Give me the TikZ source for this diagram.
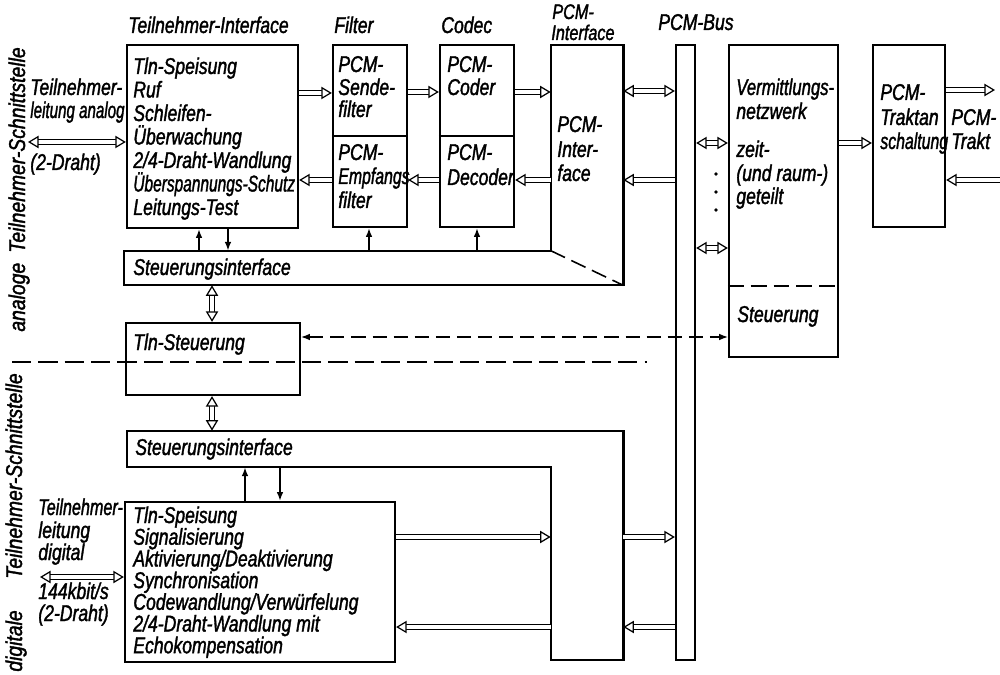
\documentclass[tikz,border=0pt]{standalone}
\usepackage{fontspec}
\setmainfont{Liberation Sans}[FakeStretch=0.77,FakeBold=1.5]
\usetikzlibrary{arrows.meta,fit}
\newcommand\sqz[2][0.88]{\scalebox{#1}[1]{#2}}
\tikzset{
  otri/.tip={Triangle[length=6pt,width=7pt,color=black,fill=white,line width=0.7pt]},
  ctip/.tip={Latex[length=5pt,width=3.8pt]},
  box/.style={draw, line width=1.3pt, inner sep=0pt},
  area/.style={inner sep=0pt},
  outline/.style={draw, line width=1.3pt, line join=miter},
  txt/.style={inner sep=0pt, anchor=base west, font=\fontsize{13}{13}\selectfont\itshape},
  dbl/.style={draw, line width=0.65pt, double, double distance=1.8pt,
    e/.style={shorten >=3pt}, s/.style={shorten <=3pt}, b/.style={shorten >=3pt, shorten <=3pt}},
  ghost/.style={draw=white, line width=0.1pt,
    e/.style={-otri}, s/.style={otri-}, b/.style={otri-otri}},
  ctl/.style={draw, line width=0.9pt, -ctip},
  dashctl/.style={draw, line width=0.7pt, dash pattern=on 8pt off 4pt, ctip-ctip},
  sep/.style={draw, line width=0.8pt, dash pattern=on 11pt off 4pt},
  divider/.style={draw, line width=0.9pt, dash pattern=on 9pt off 4pt}
}
\newcommand\dar[3]{\draw[dbl,#1] #2 -- #3; \draw[ghost,#1] #2 -- #3;}
\begin{document}
\begin{tikzpicture}[x=0.02cm,y=-0.02cm]
\useasboundingbox (0,0) rectangle (1000,675);

% ---------- boxes ----------
\node[box, fit={(127,45) (298,228)}] (ti) {};
\node[box, fit={(333,45) (407,227)}] (filt) {};
\node[box, fit={(440,45) (514,227)}] (codec) {};
\node[area, fit={(551,45) (623,285)}] (pif) {};
\node[area, fit={(124,251) (623,285)}] (stifA) {};
\node[box, fit={(126,323) (300,395)}] (tlns) {};
\node[area, fit={(127,431) (623,467)}] (stifB) {};
\node[area, fit={(551,431) (623,660)}] (pifB) {};
\node[box, fit={(125,502) (395,662)}] (dig) {};
\node[box, fit={(676,45) (695,660)}] (bus) {};
\node[box, fit={(729,45) (838,357)}] (vn) {};
\node[box, fit={(873,45) (945,227)}] (pta) {};

\draw[line width=1.1pt] (filt.west |- 0,136) -- (filt.east |- 0,136);
\draw[line width=1.1pt] (codec.west |- 0,136) -- (codec.east |- 0,136);
\draw[divider] (vn.west |- 0,286) -- (vn.east |- 0,286);

\draw[outline] (stifA.north west) -- (pif.west |- stifA.north) -- (pif.north west)
  -- (pif.north east) -- (pif.south east) -- (stifA.south west) -- cycle;
\draw[divider] (pif.west |- stifA.north) -- (pif.south east);
\draw[outline] (stifB.north west) -- (stifB.north east) -- (pifB.south east)
  -- (pifB.south west) -- (pifB.west |- stifB.south) -- (stifB.south west) -- cycle;

% separator
\draw[sep] (12,362) -- (647,362);

% dots
\foreach \yy [count=\k] in {174,192,210} \fill (716,\yy) circle (1.8);

% ---------- free ends ----------
\coordinate (la) at (28,142);
\coordinate (ld) at (40,577);
\coordinate (out1) at (995,90);
\coordinate (in1) at (1000,180);

% ---------- data arrows ----------
\dar{b}{(la)}{(ti.west |- la)}
\dar{e}{(ti.east |- 0,93)}{(filt.west |- 0,93)}
\dar{e}{(filt.east |- 0,92)}{(codec.west |- 0,92)}
\dar{e}{(codec.east |- 0,92)}{(pif.west |- 0,92)}
\dar{b}{(pif.east |- 0,91)}{(bus.west |- 0,91)}
\dar{s}{(pif.east |- 0,180)}{(bus.west |- 0,180)}
\dar{s}{(codec.east |- 0,180)}{(pif.west |- 0,180)}
\dar{s}{(filt.east |- 0,180)}{(codec.west |- 0,180)}
\dar{s}{(ti.east |- 0,180)}{(filt.west |- 0,180)}
\dar{b}{(bus.east |- 0,143)}{(vn.west |- 0,143)}
\dar{b}{(bus.east |- 0,248)}{(vn.west |- 0,248)}
\dar{e}{(vn.east |- 0,143)}{(pta.west |- 0,143)}
\dar{e}{(pta.east |- out1)}{(out1)}
\dar{s}{(pta.east |- in1)}{(in1)}
\dar{b}{(stifA.south -| 212,0)}{(tlns.north -| 212,0)}
\dar{b}{(tlns.south -| 212,0)}{(stifB.north -| 212,0)}
\dar{b}{(ld)}{(dig.west |- ld)}
\dar{e}{(dig.east |- 0,537)}{(pifB.west |- 0,537)}
\dar{e}{(pifB.east |- 0,537)}{(bus.west |- 0,537)}
\dar{s}{(dig.east |- 0,627)}{(pifB.west |- 0,627)}
\dar{s}{(pifB.east |- 0,627)}{(bus.west |- 0,627)}

% ---------- control arrows ----------
\draw[ctl] (stifA.north -| 199,0) -- (ti.south -| 199,0);
\draw[ctl] (ti.south -| 228,0) -- (stifA.north -| 228,0);
\draw[ctl] (stifA.north -| 369,0) -- (filt.south -| 369,0);
\draw[ctl] (stifA.north -| 477,0) -- (codec.south -| 477,0);
\draw[ctl] (dig.north -| 245,0) -- (stifB.south -| 245,0);
\draw[ctl] (stifB.south -| 280,0) -- (dig.north -| 280,0);
\draw[dashctl] (tlns.east |- 0,337) -- (vn.west |- 0,337);

% ---------- texts ----------
\node[txt] (tTI) at (128,33) {Teilnehmer-Interface};
\node[txt] (tF) at (334,33) {Filter};
\node[txt] (tC) at (441,33) {Codec};
\node[txt, font=\fontsize{12}{12}\selectfont\itshape] (tP1) at (552,19) {PCM-};
\node[txt, font=\fontsize{12}{12}\selectfont\itshape] (tP2) at (551,40) {Interface};
\node[txt] (tB) at (658,30) {PCM-Bus};

\foreach \t [count=\i] in {Tln-Speisung, Ruf, Schleifen-, Überwachung, 2/4-Draht-Wandlung, {\sqz{Überspannungs-Schutz}}, Leitungs-Test}
  \node[txt, name=ti\i] at (133, {74+23.5*(\i-1)}) {\t};

\node[txt] (la1) at (30,95) {Teilnehmer-};
\node[txt] (la2) at (30,118) {\sqz[0.86]{leitung analog}};
\node[txt] (la3) at (30,170) {(2-Draht)};

\node[txt] (f1) at (338,72) {PCM-};
\node[txt] (f2) at (338,95) {Sende-};
\node[txt] (f3) at (338,117) {filter};
\node[txt] (f4) at (338,160) {PCM-};
\node[txt] (f5) at (338,184) {\sqz[0.9]{Empfangs}};
\node[txt] (f6) at (338,208) {filter};

\node[txt] (c1) at (447,72) {PCM-};
\node[txt] (c2) at (447,95) {Coder};
\node[txt] (c3) at (447,160) {PCM-};
\node[txt] (c4) at (447,185) {Decoder};

\node[txt] (p1) at (557,132) {PCM-};
\node[txt] (p2) at (557,157) {Inter-};
\node[txt] (p3) at (557,181) {face};

\node[txt] (v1) at (736,95) {\sqz[0.95]{Vermittlungs-}};
\node[txt] (v2) at (736,119) {netzwerk};
\node[txt] (v3) at (736,157) {zeit-};
\node[txt] (v4) at (736,181) {(und raum-)};
\node[txt] (v5) at (736,204) {geteilt};
\node[txt] (v6) at (737,322) {Steuerung};

\node[txt] (k1) at (880,100) {PCM-};
\node[txt] (k2) at (880,125) {Traktan};
\node[txt] (k3) at (880,149) {\sqz[0.9]{schaltung}};
\node[txt] (k4) at (951,125) {PCM-};
\node[txt] (k5) at (951,149) {Trakt};

\node[txt] (s1) at (133,275) {Steuerungsinterface};
\node[txt] (s2) at (133,350) {Tln-Steuerung};
\node[txt] (s3) at (135,455) {Steuerungsinterface};

\foreach \t [count=\i] in {Tln-Speisung, Signalisierung, Aktivierung/Deaktivierung, Synchronisation, Codewandlung/Verwürfelung, 2/4-Draht-Wandlung mit, Echokompensation}
  \node[txt, name=d\i] at (133, {523+21.7*(\i-1)}) {\t};

\node[txt] (ld1) at (38,515) {\sqz[0.92]{Teilnehmer-}};
\node[txt] (ld2) at (38,538) {leitung};
\node[txt] (ld3) at (38,560) {digital};
\node[txt] (ld4) at (38,599) {144kbit/s};
\node[txt] (ld5) at (38,621) {(2-Draht)};

\node[txt, rotate=90, anchor=base west] (rotA1) at (25,332) {\sqz[1.1]{analoge}};
\node[txt, rotate=90, anchor=base east] (rotA2) at (25,47) {\sqz[1.1]{Teilnehmer-Schnittstelle}};
\node[txt, rotate=90, anchor=base west] (rotD1) at (22,672) {\sqz[1.1]{digitale}};
\node[txt, rotate=90, anchor=base east] (rotD2) at (22,373) {\sqz[1.1]{Teilnehmer-Schnittstelle}};
\end{tikzpicture}
\end{document}
